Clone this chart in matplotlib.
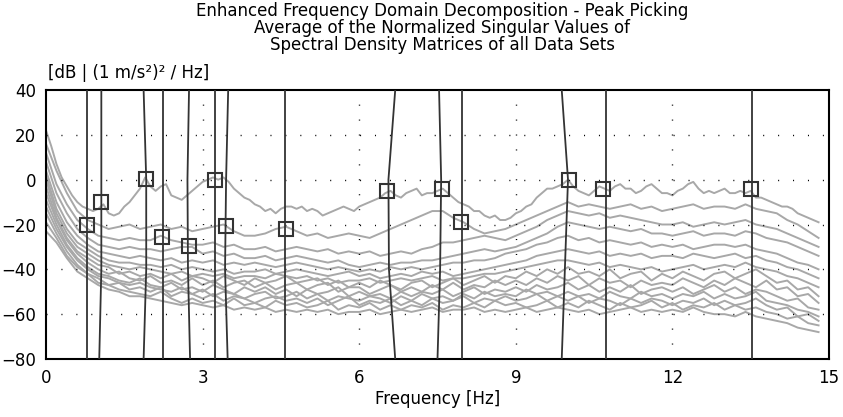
import numpy as np
import matplotlib
matplotlib.use('Agg')
import matplotlib.pyplot as plt

# sample frequencies [Hz]
F_FINE = np.linspace(0, 14.8, 149)
F_COARSE = np.linspace(0, 14.8, 75)

# first (highest) normalized singular value, 0.1 Hz steps [dB]
SV1 = [22, 15, 7, 1, -3, -7, -10, -12, -13, -14,
       -13, -11, -15, -16, -15, -12, -10, -7, -4, 1,
       -3, -5, -3, -2, -7, -8, -9, -7, -5, -3,
       -1, 0, 1, 0, 1, -1, -4, -6, -8, -9,
       -11, -12, -14, -13, -15, -13, -12, -12, -13, -12,
       -14, -13, -14, -16, -15, -14, -13, -12, -13, -14,
       -12, -11, -10, -9, -8, -6, -5, -7, -8, -6,
       -5, -4, -7, -6, -6, -5, -4, -6, -8, -10,
       -11, -12, -14, -14, -16, -17, -16, -18, -18, -17,
       -15, -14, -12, -11, -8, -6, -4, -4, -3, -2,
       0, -3, -5, -6, -7, -5, -3, -4, -5, -3,
       -2, -4, -4, -6, -5, -3, -2, -4, -6, -6,
       -7, -5, -4, -2, -1, -4, -6, -5, -6, -5,
       -4, -6, -6, -5, -6, -5, -8, -8, -9, -10,
       -11, -12, -12, -13, -15, -16, -17, -18, -19]

# lower singular values, 0.2 Hz steps [dB]
SV2 = [16, 4, -6, -14, -18, -20, -22, -21, -20, -22, -21, -20, -22, -21, -23,
       -22, -21, -20, -23, -25, -25, -24, -22, -21, -23, -25, -24, -26, -25, -24,
       -25, -26, -24, -22, -20, -18, -16, -14, -14, -17, -19, -22, -24, -23, -22,
       -20, -18, -16, -14, -12, -10, -12, -11, -12, -13, -12, -11, -13, -12, -14,
       -13, -12, -11, -13, -12, -12, -13, -11, -13, -14, -15, -18, -20, -23, -26]
SV3 = [12, -2, -11, -18, -22, -25, -26, -27, -26, -27, -27, -25, -27, -28, -29,
       -29, -28, -30, -29, -31, -31, -30, -32, -31, -30, -31, -32, -31, -33, -32,
       -33, -32, -34, -33, -32, -33, -31, -30, -28, -28, -27, -26, -25, -26, -27,
       -25, -23, -21, -18, -16, -14, -15, -16, -15, -17, -16, -17, -18, -19, -20,
       -20, -19, -21, -20, -19, -20, -19, -18, -20, -21, -22, -24, -26, -28, -30]
SV4 = [8, -6, -15, -22, -26, -29, -30, -31, -30, -31, -31, -32, -31, -30, -30,
       -33, -32, -34, -33, -35, -35, -34, -36, -35, -34, -35, -36, -37, -36, -38,
       -39, -38, -37, -38, -37, -37, -36, -36, -35, -34, -33, -32, -31, -32, -31,
       -30, -28, -26, -24, -21, -19, -20, -21, -22, -21, -22, -23, -22, -24, -24,
       -25, -24, -23, -25, -24, -24, -25, -23, -24, -26, -27, -28, -30, -32, -34]
SV5 = [4, -10, -19, -25, -29, -32, -33, -34, -35, -34, -35, -36, -35, -37, -36,
       -37, -36, -38, -37, -38, -37, -38, -39, -38, -37, -38, -39, -40, -39, -40,
       -41, -40, -41, -39, -40, -39, -40, -39, -38, -37, -37, -36, -36, -35, -33,
       -32, -31, -29, -28, -26, -25, -27, -26, -28, -27, -28, -29, -28, -30, -29,
       -30, -29, -31, -30, -29, -29, -30, -29, -31, -32, -33, -35, -37, -38, -40]
SV6 = [2, -13, -22, -28, -31, -34, -36, -37, -37, -38, -38, -39, -38, -40, -39,
       -40, -41, -40, -42, -41, -41, -40, -42, -41, -40, -41, -42, -43, -42, -41,
       -43, -42, -44, -43, -42, -43, -41, -42, -41, -43, -42, -41, -40, -39, -38,
       -37, -36, -34, -33, -32, -31, -32, -33, -32, -34, -33, -34, -33, -35, -34,
       -34, -35, -33, -34, -35, -34, -33, -35, -34, -36, -37, -39, -40, -42, -44]
SV7 = [0, -15, -24, -30, -33, -36, -38, -39, -40, -39, -40, -41, -42, -41, -43,
       -42, -43, -42, -44, -43, -43, -44, -42, -43, -44, -43, -45, -44, -46, -45,
       -45, -44, -46, -45, -44, -45, -44, -43, -45, -44, -44, -43, -42, -42, -41,
       -40, -39, -38, -37, -36, -36, -37, -38, -37, -39, -38, -39, -40, -39, -41,
       -40, -39, -38, -40, -39, -38, -39, -37, -39, -40, -41, -43, -44, -46, -48]
SV8 = [-3, -17, -26, -32, -35, -38, -39, -42, -41, -43, -42, -44, -42, -45, -43,
       -44, -46, -43, -45, -47, -44, -46, -45, -43, -46, -45, -44, -47, -45, -48,
       -46, -48, -45, -47, -49, -46, -45, -48, -46, -44, -47, -45, -43, -46, -43,
       -44, -41, -43, -40, -42, -39, -42, -41, -43, -40, -44, -42, -41, -45, -42,
       -44, -41, -43, -45, -42, -41, -44, -42, -40, -43, -46, -45, -49, -48, -52]
SV9 = [-6, -18, -27, -33, -37, -40, -42, -41, -44, -45, -43, -46, -45, -47, -44,
       -47, -45, -48, -46, -45, -48, -46, -49, -47, -46, -49, -47, -46, -50, -48,
       -48, -51, -49, -47, -50, -48, -50, -47, -49, -46, -49, -47, -48, -45, -47,
       -45, -47, -44, -46, -43, -45, -43, -47, -44, -46, -45, -48, -45, -47, -46,
       -47, -44, -46, -48, -45, -47, -44, -46, -48, -45, -49, -48, -52, -51, -55]
SV10 = [-9, -20, -29, -35, -39, -42, -43, -45, -46, -44, -47, -48, -46, -49, -48,
        -50, -47, -49, -51, -48, -50, -48, -51, -49, -52, -49, -51, -50, -48, -52,
        -50, -52, -51, -53, -50, -52, -50, -51, -49, -52, -50, -48, -51, -49, -50,
        -48, -50, -47, -49, -48, -46, -49, -47, -50, -48, -50, -47, -51, -49, -48,
        -50, -48, -51, -49, -47, -50, -48, -51, -49, -50, -52, -54, -53, -57, -58]
SV11 = [-12, -22, -30, -36, -40, -43, -44, -46, -47, -46, -48, -49, -50, -48, -51,
        -49, -52, -50, -51, -53, -51, -50, -53, -52, -50, -53, -51, -54, -52, -53,
        -54, -52, -53, -55, -52, -54, -51, -53, -52, -54, -51, -53, -50, -52, -51,
        -52, -49, -51, -50, -52, -50, -52, -51, -53, -50, -52, -53, -50, -52, -51,
        -53, -51, -52, -50, -53, -51, -53, -52, -50, -54, -55, -56, -58, -59, -61]
SV12 = [-15, -24, -32, -38, -42, -44, -47, -46, -49, -48, -50, -48, -52, -50, -51,
        -53, -51, -54, -52, -53, -55, -53, -52, -54, -53, -55, -53, -56, -54, -52,
        -56, -54, -55, -53, -56, -54, -56, -53, -55, -54, -52, -55, -53, -54, -52,
        -54, -53, -51, -54, -52, -54, -52, -55, -53, -54, -56, -53, -55, -53, -54,
        -56, -54, -55, -53, -56, -54, -56, -55, -53, -56, -58, -57, -61, -60, -63]
SV13 = [-19, -26, -34, -39, -42, -46, -47, -49, -50, -51, -52, -50, -53, -55, -53,
        -55, -54, -56, -53, -56, -55, -57, -54, -56, -55, -57, -56, -54, -58, -56,
        -57, -55, -58, -56, -58, -56, -57, -55, -58, -56, -57, -55, -57, -54, -56,
        -55, -57, -56, -54, -57, -55, -57, -54, -56, -58, -55, -57, -56, -54, -57,
        -55, -58, -56, -57, -55, -58, -56, -58, -57, -59, -60, -62, -61, -64, -65]
SV14 = [-23, -28, -35, -41, -44, -47, -49, -50, -52, -52, -53, -54, -55, -56, -55,
        -56, -57, -56, -58, -57, -58, -57, -59, -58, -59, -58, -59, -58, -60, -59,
        -59, -58, -60, -59, -58, -59, -58, -57, -59, -58, -58, -57, -59, -58, -59,
        -58, -57, -59, -58, -57, -58, -59, -58, -60, -59, -58, -57, -59, -58, -59,
        -58, -59, -57, -59, -60, -60, -61, -59, -61, -62, -63, -64, -66, -67, -68]
SV_LOWER = [SV2, SV3, SV4, SV5, SV6, SV7, SV8, SV9, SV10, SV11, SV12, SV13, SV14]

# picked peaks
PEAK_F = [0.78, 1.05, 1.92, 2.23, 2.73, 3.24, 3.44, 4.60, 6.54, 7.59, 7.95, 10.01, 10.68, 13.51]
PEAK_DB = [-20, -10, 0.5, -25.4, -29.6, 0, -20.7, -22, -5, -4.2, -19, 0, -4.2, -4.2]

# tracked frequency of each peak line at these levels [dB]
LINE_LEVELS = [40, 0, -40, -80]
LINE_F = [
    [0.78, 0.78, 0.78, 0.78],
    [1.06, 1.06, 1.06, 1.02],
    [1.87, 1.92, 1.92, 1.87],
    [2.25, 2.25, 2.25, 2.25],
    [2.74, 2.71, 2.72, 2.76],
    [3.24, 3.24, 3.24, 3.24],
    [3.49, 3.45, 3.43, 3.48],
    [4.58, 4.58, 4.58, 4.58],
    [6.69, 6.56, 6.57, 6.69],
    [7.53, 7.57, 7.55, 7.50],
    [7.96, 7.96, 7.96, 7.96],
    [9.88, 10.00, 9.94, 9.88],
    [10.72, 10.72, 10.72, 10.72],
    [13.53, 13.53, 13.53, 13.53],
]

X_TICKS = [0, 3, 6, 9, 12, 15]
Y_TICKS = [40, 20, 0, -20, -40, -60, -80]

TITLE = ('Enhanced Frequency Domain Decomposition - Peak Picking\n'
         'Average of the Normalized Singular Values of\n'
         'Spectral Density Matrices of all Data Sets')

plt.rcParams['font.family'] = 'DejaVu Sans'
FS = 12

fig = plt.figure(figsize=(8.43, 4.17), dpi=100, facecolor='white')
ax = fig.add_axes([46 / 843, 58 / 417, 783 / 843, 269 / 417])

GRAY = '#a8a8a8'
for sv in SV_LOWER[::-1]:
    ax.plot(F_COARSE, sv, color=GRAY, lw=1.4, zorder=2)
ax.plot(F_FINE, SV1, color=GRAY, lw=1.4, zorder=2)

# dotted grid, one dot every ~15 px
for yv in Y_TICKS[1:-1]:
    ax.axhline(yv, color='black', lw=1.0, ls=(0, (0.75, 10)), zorder=3)
for xv in X_TICKS[1:-1]:
    ax.axvline(xv, color='black', lw=1.0, ls=(0, (0.75, 10)), zorder=3)

for lf in LINE_F:
    ax.plot(lf, LINE_LEVELS, color='#333333', lw=1.3, zorder=4)

ax.plot(PEAK_F, PEAK_DB, ls='none', marker='s', ms=9.5, mfc='none',
        mec='#333333', mew=1.5, zorder=5)

ax.set_xlim(0, 15)
ax.set_ylim(-80, 40)
ax.set_xticks(X_TICKS)
ax.set_yticks(Y_TICKS)
ax.tick_params(length=0, labelsize=FS, pad=7)
for s in ax.spines.values():
    s.set_linewidth(1.5)
    s.set_color('black')

ax.set_xlabel('Frequency [Hz]', fontsize=FS, labelpad=2)
fig.text(48 / 843, 1 - 73 / 417, '[dB | (1 m/s\u00b2)\u00b2 / Hz]', fontsize=FS,
         ha='left', va='center')

fig.text(442 / 843, 1 - 28 / 417, TITLE, fontsize=FS, ha='center',
         va='center', linespacing=0.9)

fig.savefig('out.png', dpi=100, facecolor='white')
